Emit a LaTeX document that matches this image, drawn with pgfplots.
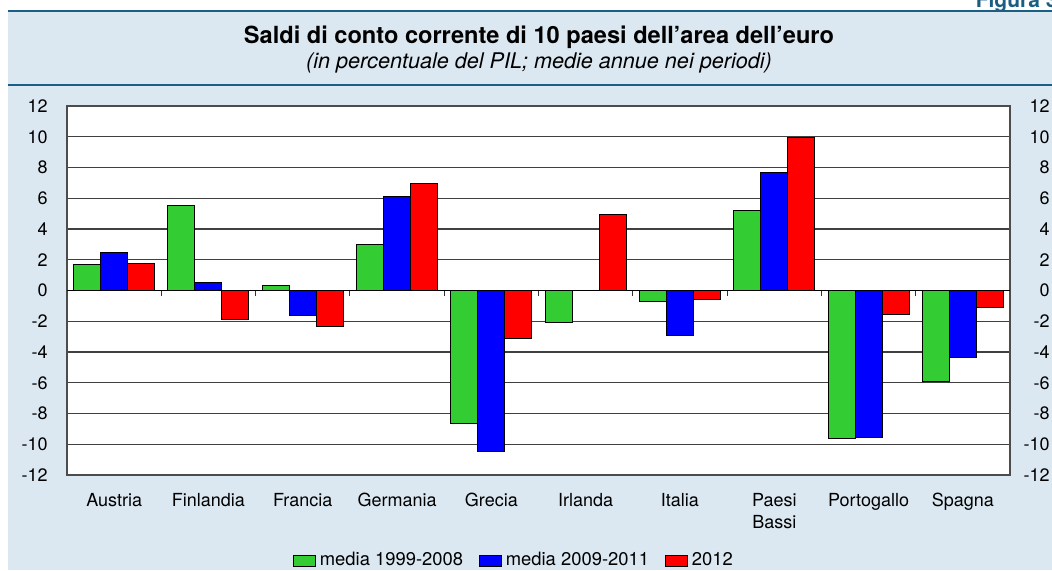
\documentclass[border=0pt]{standalone}
\usepackage{pgfplots}
\pgfplotsset{compat=1.18}
\usepackage{fontspec}
\setmainfont{TeX Gyre Heros}

\definecolor{bgblue}{HTML}{DCE8F1}
\definecolor{figteal}{HTML}{1B5E84}
\definecolor{barG}{HTML}{33CC33}
\definecolor{barB}{HTML}{0000FF}
\definecolor{barR}{HTML}{FF0000}

\pgfplotsset{
  barleg/.style={legend image code/.code={%
    \draw[##1,draw=black,line width=0.4pt] (0pt,-2.75pt) rectangle (11pt,2.75pt);}},
  common/.style={
    at={(33.5pt,47.5pt)}, anchor=south west,
    scale only axis, width=471.5pt, height=184.5pt,
    xmin=-0.5, xmax=9.5, ymin=-12, ymax=12,
    ytick={-12,-10,...,12},
    yticklabels={-12,-10,-8,-6,-4,-2,0,2,4,6,8,10,12},
    major tick length=0pt,
  },
}

\begin{document}
\begin{tikzpicture}[x=1pt,y=1pt]
\useasboundingbox (0,0) rectangle (526,285);
\fill[white] (0,0) rectangle (526,285);
\fill[bgblue] (4,0) rectangle (526,279.5);
\draw[figteal, line width=1.2pt] (4,279.5) -- (526,279.5);
\draw[figteal, line width=1pt] (4,242.5) -- (526,242.5);
\node[anchor=base east, inner sep=0, text=figteal,
      font=\bfseries\fontsize{10.5}{12}\selectfont] at (529,281.3) {Figura 3};
\node[font=\bfseries\fontsize{11.8}{13}\selectfont] at (269.5,266.5)
  {Saldi di conto corrente di 10 paesi dell’area dell’euro};
\node[font=\itshape\fontsize{10.8}{12}\selectfont] at (269.5,253.5)
  {(in percentuale del PIL; medie annue nei periodi)};

\begin{axis}[common,
  ybar=0pt, bar width=13.5pt,
  xtick={0,...,9},
  xticklabels={Austria,Finlandia,Francia,Germania,Grecia,Irlanda,Italia,Paesi\\Bassi,Portogallo,Spagna},
  xticklabel style={align=center, inner sep=0pt, anchor=north, yshift=-9pt,
    font=\fontsize{9}{10.8}\selectfont},
  yticklabel style={inner sep=0pt, xshift=-9.5pt, font=\fontsize{9}{10}\selectfont},
  ymajorgrids, grid style={black!75, line width=0.6pt},
  axis line style={black!70, line width=0.6pt},
  axis background/.style={fill=white},
  legend style={at={(0.475,-0.232)}, anchor=center, draw=none, fill=none,
    legend columns=3, font=\fontsize{9.2}{11}\selectfont,
    /tikz/every even column/.append style={column sep=6pt},
    inner sep=0pt},
]
\draw[black, line width=0.7pt] (axis cs:-0.5,0) -- (axis cs:9.5,0);
\pgfplotsinvokeforeach{0.5,1.5,2.5,3.5,4.5,5.5,6.5,7.5,8.5}{
  \draw[black!80, line width=0.5pt] (axis cs:#1,0) -- (axis cs:#1,-0.38);
}
% media 1999-2008
\addplot[fill=barG, draw=black, line width=0.5pt, barleg] coordinates {
  (0,1.66) (1,5.52) (2,0.34) (3,3.00) (4,-8.64)
  (5,-2.07) (6,-0.73) (7,5.19) (8,-9.64) (9,-5.89)};
% media 2009-2011
\addplot[fill=barB, draw=black, line width=0.5pt, barleg] coordinates {
  (0,2.46) (1,0.53) (2,-1.61) (3,6.10) (4,-10.46)
  (5,0.00) (6,-2.92) (7,7.66) (8,-9.53) (9,-4.37)};
% 2012
\addplot[fill=barR, draw=black, line width=0.5pt, barleg] coordinates {
  (0,1.74) (1,-1.87) (2,-2.33) (3,6.97) (4,-3.11)
  (5,4.93) (6,-0.57) (7,9.92) (8,-1.55) (9,-1.09)};
\legend{media 1999-2008, media 2009-2011, 2012}
\end{axis}

% etichette asse destro
\begin{axis}[common,
  hide x axis, axis y line*=right, axis line style={draw=none},
  yticklabel style={anchor=east, inner sep=0pt, xshift=20pt,
    font=\fontsize{9}{10}\selectfont},
]
\addplot[draw=none] coordinates {(0,0)};
\end{axis}
\end{tikzpicture}
\end{document}
